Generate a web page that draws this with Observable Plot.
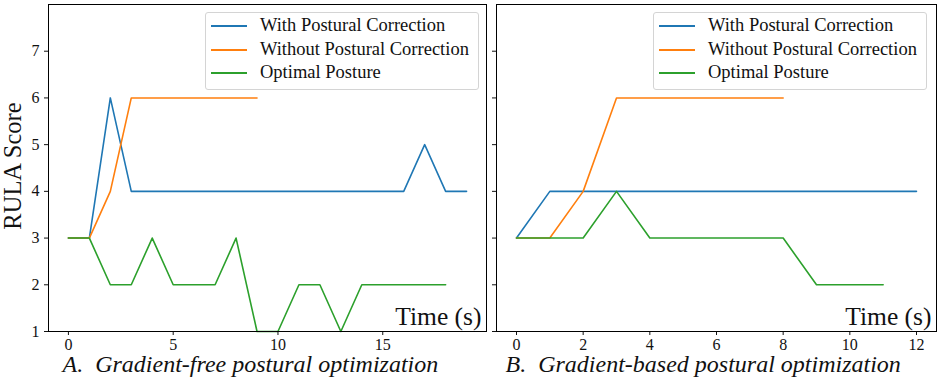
<!DOCTYPE html>
<html>
<head>
<meta charset="utf-8">
<script src="https://cdn.jsdelivr.net/npm/d3@7"></script>
<script src="https://cdn.jsdelivr.net/npm/@observablehq/plot@0.6"></script>
<style>
  html, body { margin: 0; padding: 0; background: #fff; }
  #chart { position: relative; width: 939px; height: 381px; font-family: "Liberation Serif", "DejaVu Serif", serif; color: #111; }
  #chart svg { position: absolute; top: 0; overflow: visible; }
  #chart svg text { font-family: "Liberation Serif", "DejaVu Serif", serif; }
  .legend { position: absolute; border: 1px solid #d4d4d4; border-radius: 3px; background: rgba(255,255,255,0.85); box-sizing: border-box; }
  .legend .sw { position: absolute; height: 2px; width: 36px; }
  .legend .lb { position: absolute; font-family: "Liberation Serif", "DejaVu Serif", serif; font-size: 18.5px; line-height: 20px; white-space: nowrap; color: #111; }
</style>
</head>
<body>
<div id="chart"></div>
<script>
// ---- data ----
const seriesNames = ["With Postural Correction", "Without Postural Correction", "Optimal Posture"];
const seriesColors = ["#1f77b4", "#ff7f0e", "#2ca02c"];

const timeA = [0,1,2,3,4,5,6,7,8,9,10,11,12,13,14,15,16,17,18,19];
const withA = [3,3,6,4,4,4,4,4,4,4,4,4,4,4,4,4,4,5,4,4];
const withoutA = [3,3,4,6,6,6,6,6,6,6];
const optimalA = [3,3,2,2,3,2,2,2,3,1,1,2,2,1,2,2,2,2,2];

const timeB = [0,1,2,3,4,5,6,7,8,9,10,11,12];
const withB = [3,4,4,4,4,4,4,4,4,4,4,4,4];
const withoutB = [3,3,4,6,6,6,6,6,6];
const optimalB = [3,3,3,4,3,3,3,3,3,2,2,2];

const yTicks = [1,2,3,4,5,6,7];
const xTicksA = [0,5,10,15];
const xTicksB = [0,2,4,6,8,10,12];

const captionA = "A.  Gradient-free postural optimization";
const captionB = "B.  Gradient-based postural optimization";
const yLabel = "RULA Score";
const xLabel = "Time (s)";

const FONT = "'Liberation Serif', 'DejaVu Serif', serif";

function panel({time, series, xDomain, xTicks, width, marginLeft, showYLabels, caption, captionDx}) {
  const marks = [];
  series.forEach((vals, k) => {
    const rows = vals.map((v, i) => ({t: time[i], v}));
    marks.push(Plot.line(rows, {x: "t", y: "v", stroke: seriesColors[k], strokeWidth: 1.6}));
  });
  marks.push(Plot.axisY({ticks: yTicks, tickSize: 4, tickPadding: 5, fontSize: 16, fontFamily: FONT,
    tickFormat: showYLabels ? (d => String(d)) : (() => ""), label: null}));
  marks.push(Plot.axisX({ticks: xTicks, tickSize: 4, tickPadding: 3, fontSize: 16, fontFamily: FONT, label: null}));
  marks.push(Plot.frame({stroke: "#000", strokeWidth: 1}));
  marks.push(Plot.text([xLabel], {frameAnchor: "bottom-right", textAnchor: "end", dx: -5, dy: -7,
    fontSize: 25.5, fontFamily: FONT, fill: "#111"}));
  marks.push(Plot.text([caption], {frameAnchor: "bottom-left", textAnchor: "start", dx: captionDx, dy: 40,
    fontSize: 24, fontStyle: "italic", fontFamily: FONT, fill: "#111"}));
  if (showYLabels) {
    marks.push(Plot.text([yLabel], {frameAnchor: "left", rotate: -90, textAnchor: "middle", dx: -35, dy: -2,
      fontSize: 24.5, fontFamily: FONT, fill: "#111"}));
  }
  return Plot.plot({
    width, height: 381,
    marginLeft, marginRight: 3, marginTop: 4, marginBottom: 50,
    style: {fontFamily: FONT, color: "#111", background: "transparent", overflow: "visible"},
    x: {domain: xDomain},
    y: {domain: [1, 8]},
    marks
  });
}

const chart = document.getElementById("chart");

const pA = panel({time: timeA, series: [withA, withoutA, optimalA], xDomain: [-0.95, 19.95], xTicks: xTicksA,
  width: 489, marginLeft: 48, showYLabels: true, caption: captionA, captionDx: 14});
pA.style.left = "0px";
chart.appendChild(pA);

const pB = panel({time: timeB, series: [withB, withoutB, optimalB], xDomain: [-0.6, 12.6], xTicks: xTicksB,
  width: 449, marginLeft: 6, showYLabels: false, caption: captionB, captionDx: 9});
pB.style.left = "490px";
chart.appendChild(pB);

function legend(left) {
  const box = document.createElement("div");
  box.className = "legend";
  Object.assign(box.style, {left: left + "px", top: "12px", width: "274px", height: "78px"});
  seriesNames.forEach((name, k) => {
    const cy = 13 + k * 23.5;
    const sw = document.createElement("div");
    sw.className = "sw";
    Object.assign(sw.style, {left: "5px", top: (cy - 1) + "px", background: seriesColors[k]});
    const lb = document.createElement("div");
    lb.className = "lb";
    lb.textContent = name;
    Object.assign(lb.style, {left: "54px", top: (cy - 11) + "px"});
    box.appendChild(sw); box.appendChild(lb);
  });
  chart.appendChild(box);
}
legend(205);
legend(653);
</script>
</body>
</html>
